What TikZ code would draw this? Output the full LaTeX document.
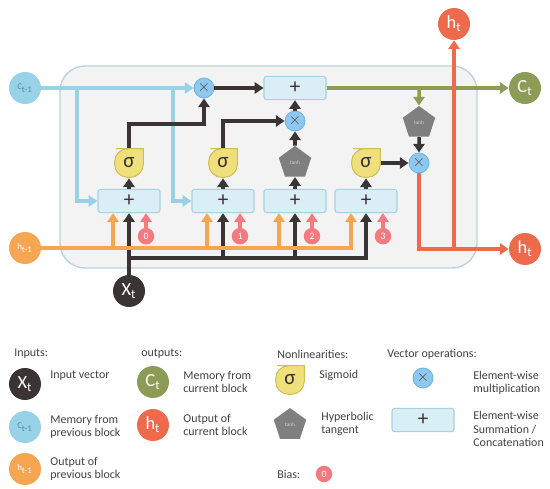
\documentclass[tikz,border=0pt]{standalone}
\usepackage{fontspec}
\setmainfont{Carlito}
\usetikzlibrary{arrows.meta,positioning,calc,shapes.geometric}
\definecolor{ink}{HTML}{3B3435}
\definecolor{sky}{HTML}{98D2E7}
\definecolor{skytext}{HTML}{4F87A3}
\definecolor{boxfill}{HTML}{DAEEF6}
\definecolor{boxline}{HTML}{A9CFE0}
\definecolor{mulfill}{HTML}{8FC8EE}
\definecolor{mulline}{HTML}{6CB4E2}
\definecolor{moss}{HTML}{8C9C57}
\definecolor{coral}{HTML}{EE6A4C}
\definecolor{amber}{HTML}{F6A653}
\definecolor{sigfill}{HTML}{EFE07C}
\definecolor{sigline}{HTML}{CDBE56}
\definecolor{slate}{HTML}{7F7F7F}
\definecolor{rose}{HTML}{F37A7E}
\definecolor{panel}{HTML}{F3F3F3}
\definecolor{panelline}{HTML}{BCD2DE}
\definecolor{label}{HTML}{404040}

\begin{document}
\begin{tikzpicture}[x=0.02cm,y=-0.02cm,>={Triangle[length=5pt,width=6.4pt]},
 wire/.style={line width=2pt},
 blu/.style={wire,sky}, ora/.style={wire,amber}, dk/.style={wire,ink},
 grn/.style={wire,moss}, hot/.style={wire,coral}, pnk/.style={wire,rose},
 io/.style={circle,minimum size=0.64cm,inner sep=0,text=white,font=\fontsize{10.5}{10.5}\selectfont},
 small/.style={font=\fontsize{5}{5}\selectfont},
 sumbox/.style={rectangle,rounded corners=1.5pt,minimum width=1.24cm,minimum height=0.42cm,
  fill=boxfill,draw=boxline,line width=0.6pt,text=ink,font=\fontsize{12}{12}\selectfont},
 mul/.style={circle,minimum size=0.4cm,inner sep=0,fill=mulfill,draw=mulline,line width=0.5pt,
  text=ink!90,font=\fontsize{9}{9}\selectfont},
 sig/.style={minimum size=0.6cm,inner sep=0,text=ink,font=\fontsize{12}{12}\selectfont,
  path picture={\fill[sigfill,draw=sigline,line width=0.6pt]
   ([yshift=-0.4pt]path picture bounding box.north)
   -- ([xshift=-0.4pt,yshift=-0.4pt]path picture bounding box.north east)
   -- ([xshift=-0.4pt]path picture bounding box.east) [rounded corners=0.26cm]
   -- ([xshift=-0.4pt,yshift=0.4pt]path picture bounding box.south east)
   -- ([xshift=0.4pt,yshift=0.4pt]path picture bounding box.south west)
   -- ([xshift=0.4pt,yshift=-0.4pt]path picture bounding box.north west) -- cycle;}},
 tanhbox/.style={regular polygon,regular polygon sides=5,minimum size=0.68cm,inner sep=0,
  fill=slate,text=gray!35,font=\fontsize{3}{3}\selectfont},
 bias/.style={circle,minimum size=0.33cm,inner sep=0,fill=rose,text=white,font=\fontsize{5.5}{5.5}\selectfont},
 txt/.style={anchor=west,align=left,inner sep=0,text=label,font=\fontsize{6.8}{7.6}\selectfont}]
\useasboundingbox (0,0) rectangle (550,489);
% cell background
\draw[panelline,fill=panel,line width=0.8pt,rounded corners=0.5cm] (60,66) rectangle (477,268);

% inputs and outputs
\node[io,fill=sky,text=skytext,small] (cprev) at (25,88) {C\textsubscript{t-1}};
\node[io,fill=amber,small] (hprev) at (25,248) {h\textsubscript{t-1}};
\node[io,fill=ink] (xt) at (129,291) {X\textsubscript{t}};
\node[io,fill=moss] (ct) at (525,88) {C\textsubscript{t}};
\node[io,fill=coral] (htop) at (454,24) {h\textsubscript{t}};
\node[io,fill=coral] (hout) at (525,249) {h\textsubscript{t}};

% gates
\foreach \i/\x in {1/129,2/223,3/295,4/366}
 \node[sumbox] (b\i) at (\x,201) {+};
\node[sumbox] (bs) at (295,88) {+};
\node[sig] (s1) at (129,163) {σ};
\node[sig] (s2) at (223,163) {σ};
\node[tanhbox] (tg) at (295,163) {tanh};
\node[sig] (s3) at (366,163) {σ};
\node[tanhbox] (tc) at (419,123) {tanh};
\node[mul] (mf) at (204,88) {$\times$};
\node[mul] (mi) at (295,121) {$\times$};
\node[mul] (mo) at (419,163) {$\times$};
\foreach \i/\n in {1/0,2/1,3/2,4/3}
 \node[bias] (z\n) at ($(b\i.south)+(17,23)$) {\n};

% memory line
\coordinate (j1) at (77,88);
\coordinate (j2) at (173,88);
\draw[blu,->] (cprev) -- (mf);
\draw[blu,->] (j1) |- (b1);
\draw[blu,->] (j2) |- (b2);

% input line
\coordinate (k0) at (129,258);
\draw[dk,->] (xt) -- (b1);
\draw[dk,->] (k0) -| (b4);
\draw[dk,->] (k0 -| b2) -- (b2);
\draw[dk,->] (k0 -| b3) -- (b3);

% previous output line
\draw[ora,->] (hprev) -| ([xshift=-0.3cm]b4.south);
\foreach \i in {1,2,3}
 \draw[ora,->] ([xshift=-0.32cm]b\i.south |- hprev) -- ([xshift=-0.32cm]b\i.south);

% biases
\foreach \i/\n in {1/0,2/1,3/2,4/3}
 \draw[pnk,->] (z\n) -- (z\n |- b\i.south);

% gate outputs
\draw[dk,->] (b1) -- (s1);
\draw[dk,->] (b2) -- (s2);
\draw[dk,->] (b3) -- (tg);
\draw[dk,->] (b4) -- (s3);
\draw[dk,->] (s1) -- ++(0,-39) -| (mf);
\draw[dk,->] (s2) |- (mi);
\draw[dk,->] (tg) -- (mi);
\draw[dk,->] (mi) -- (bs);
\draw[dk,->] (mf) -- (bs);
\draw[dk,->] (s3) -- (mo);

% new memory
\coordinate (g) at (tc |- bs);
\draw[grn,->] (bs) -- (ct);
\draw[grn,->] (g) -- (tc);
\draw[dk,->] (tc) -- (mo);

% new output
\coordinate (r) at (htop |- hout);
\draw[hot,->] (mo) |- (hout);
\draw[hot,->] (r) -- (htop);

% legend
\node[txt] at (14,354) {Inputs:};
\node[txt] at (141,354) {outputs:};
\node[txt] at (277,354) {Nonlinearities:};
\node[txt] at (387,354) {Vector operations:};
\node[io,fill=ink] (lx) at (25,384) {X\textsubscript{t}};
\node[txt] (lxt) at (50,376) {Input vector};
\node[io,fill=sky,text=skytext,small] (lc) at (25,427) {C\textsubscript{t-1}};
\node[txt] (lct) at (50,427) {Memory from\\previous block};
\node[io,fill=amber,small] (lh) at (25,469) {h\textsubscript{t-1}};
\node[txt] (lht) at (50,469) {Output of\\previous block};
\node[io,fill=moss] (lo) at (153,382) {C\textsubscript{t}};
\node[txt] (lot) at (183,382) {Memory from\\current block};
\node[io,fill=coral] (lp) at (153,425) {h\textsubscript{t}};
\node[txt] (lpt) at (183,425) {Output of\\current block};
\node[sig] (ls) at (290,380) {σ};
\node[txt] (lst) at (319,375) {Sigmoid};
\node[tanhbox] (lt) at (290,425) {tanh};
\node[txt] (ltt) at (321,424) {Hyperbolic\\tangent};
\node[txt] at (277,474) {Bias:};
\node[bias] (lb) at (324,474) {0};
\node[mul] (lm) at (423,378) {$\times$};
\node[txt] (lmt) at (473,383) {Element-wise\\multiplication};
\node[sumbox] (la) at (423,420) {+};
\node[txt] (lat) at (473,429) {Element-wise\\Summation /\\Concatenation};
\end{tikzpicture}
\end{document}
